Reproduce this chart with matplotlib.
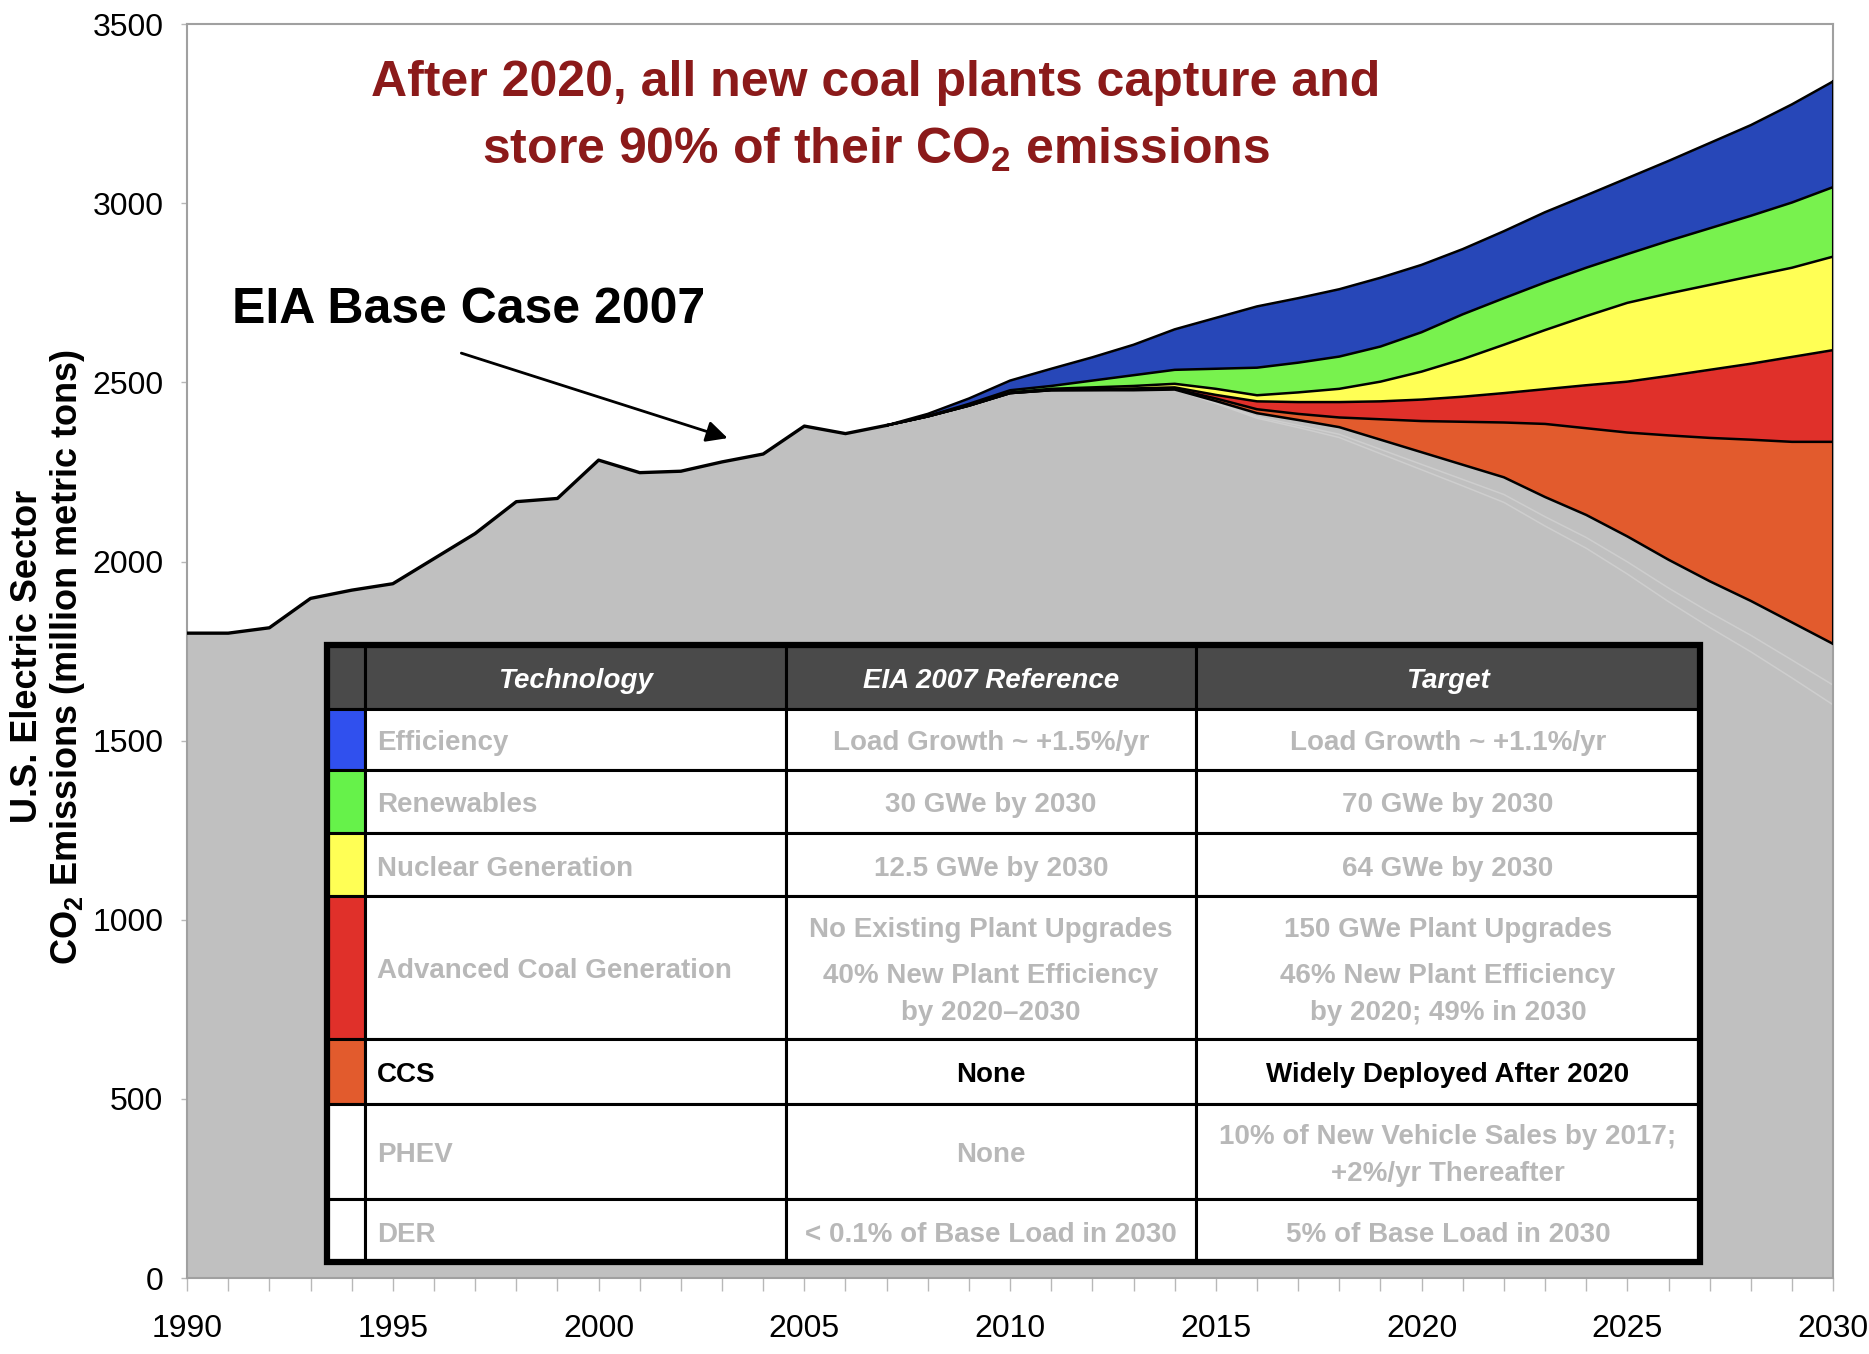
import numpy as np
import matplotlib
matplotlib.use("Agg")
import matplotlib.pyplot as plt
from matplotlib.patches import Rectangle

plt.rcParams['font.family'] = ['Liberation Sans', 'DejaVu Sans']
plt.rcParams['mathtext.fontset'] = 'custom'
plt.rcParams['mathtext.rm'] = 'Liberation Sans'
plt.rcParams['mathtext.bf'] = 'Liberation Sans:bold'
plt.rcParams['mathtext.default'] = 'bf'

# --- DATA (million metric tons CO2) ---
hist_years = list(range(1990, 2008))
hist_co2 = [1800, 1800, 1815, 1897, 1920, 1938, 2008, 2078, 2167, 2176,
            2283, 2248, 2252, 2278, 2300, 2378, 2357, 2380]

proj_years = list(range(2007, 2031))
# emissions left after all the coloured wedges (top of the grey area)
remaining = [2380, 2405, 2435, 2470, 2478, 2478, 2478, 2480, 2448, 2414, 2395, 2375,
             2340, 2305, 2270, 2235, 2180, 2130, 2070, 2005, 1945, 1890, 1830, 1770]
# reductions per technology, bottom to top
ccs = [0, 0, 0, 0, 0, 1, 2, 2, 7, 11, 17, 27,
       57, 87, 120, 153, 204, 242, 290, 347, 400, 450, 504, 564]
adv_coal = [0, 0, 0, 0, 1, 2, 3, 4, 10, 22, 33, 43,
            50, 60, 70, 82, 97, 120, 142, 166, 190, 212, 237, 256]
nuclear = [0, 0, 1, 2, 3, 5, 7, 10, 17, 17, 27, 37,
           55, 78, 105, 135, 165, 193, 220, 230, 237, 244, 249, 261]
renewables = [0, 1, 4, 6, 8, 19, 30, 39, 56, 77, 83, 90,
              98, 110, 125, 130, 133, 135, 136, 147, 158, 169, 182, 194]
efficiency = [0, 6, 15, 27, 48, 65, 85, 113, 142, 171, 180, 188,
              192, 188, 182, 187, 196, 202, 212, 223, 238, 253, 274, 295]
# PHEV / DER wedges are drawn in the grey itself, only faint edges show
phev = [0, 0, 0, 0, 0, 0, 0, 0, 5, 10, 15, 20,
        27, 34, 41, 48, 55, 63, 71, 79, 87, 96, 105, 115]
der = [0, 0, 0, 0, 0, 0, 0, 0, 2, 4, 6, 9,
       12, 15, 18, 22, 26, 30, 34, 38, 42, 46, 50, 55]

wedges = [ccs, adv_coal, nuclear, renewables, efficiency]
wedge_colors = ['#e25b2d', '#e0302a', '#ffff55', '#78f24e', '#2747b8']

# --- TABLE CONTENT ---
table_header = ['', 'Technology', 'EIA 2007 Reference', 'Target']
tech_names = ['Efficiency', 'Renewables', 'Nuclear Generation', 'Advanced Coal Generation',
              'CCS', 'PHEV', 'DER']
eia_ref = [['Load Growth ~ +1.5%/yr'], ['30 GWe by 2030'], ['12.5 GWe by 2030'],
           ['No Existing Plant Upgrades', '40% New Plant Efficiency\nby 2020\u20132030'],
           ['None'], ['None'], ['< 0.1% of Base Load in 2030']]
targets = [['Load Growth ~ +1.1%/yr'], ['70 GWe by 2030'], ['64 GWe by 2030'],
           ['150 GWe Plant Upgrades', '46% New Plant Efficiency\nby 2020; 49% in 2030'],
           ['Widely Deployed After 2020'],
           ['10% of New Vehicle Sales by 2017;\n+2%/yr Thereafter'],
           ['5% of Base Load in 2030']]
swatches = ['#3050ee', '#66f24a', '#ffff55', '#e0302a', '#e25b2d', 'white', 'white']
highlight_row = 4  # CCS row in black text

GRAY = '#c0c0c0'

fig = plt.figure(figsize=(18.69, 13.54), dpi=100)
ax = fig.add_axes([0.1001, 0.0561, 0.8807, 0.9261])

# grey base area (history + remaining emissions)
base_years = hist_years[:-1] + proj_years
base_vals = hist_co2[:-1] + remaining
ax.fill_between(base_years, 0, base_vals, color=GRAY, lw=0, zorder=1)

# stacked reduction wedges
px = np.array(proj_years)
lower = np.array(remaining, dtype=float)
bounds = [lower.copy()]
for vals, col in zip(wedges, wedge_colors):
    upper = lower + np.array(vals)
    ax.fill_between(px, lower, upper, color=col, lw=0, zorder=2)
    lower = upper
    bounds.append(upper.copy())

# faint PHEV / DER edges inside the grey
r = np.array(remaining)
m = px >= 2014
ax.plot(px[m], (r - np.array(phev))[m], color='#cecece', lw=1.1, zorder=1.5)
ax.plot(px[m], (r - np.array(phev) - np.array(der))[m], color='#cecece', lw=1.1, zorder=1.5)

# outlines
ax.plot(hist_years, hist_co2, color='black', lw=2.4, zorder=4)
for b in bounds:
    ax.plot(px, b, color='black', lw=1.8, zorder=4)
ax.plot([px[-1], px[-1]], [bounds[0][-1], bounds[-1][-1]], color='black', lw=1.5, zorder=4)

ax.set_xlim(1990, 2030)
ax.set_ylim(0, 3500)
ax.set_xticks(range(1990, 2031, 5))
ax.set_xticks(range(1990, 2031), minor=True)
ax.set_yticks(range(0, 3501, 500))
ax.tick_params(axis='x', which='both', direction='out', length=9, width=1,
               color='#b8b8b8', labelsize=23, pad=17)
ax.tick_params(axis='y', direction='out', length=4, width=1, color='#b8b8b8',
               labelsize=23, pad=13)
for s in ax.spines.values():
    s.set_color('#a0a0a0')
    s.set_linewidth(1.5)

# axis title (two lines)
fig.text(0.0145, 0.515, 'U.S. Electric Sector', rotation=90, ha='center', va='center',
         fontsize=26, fontweight='bold')
fig.text(0.036, 0.515, 'CO$_2$ Emissions (million metric tons)', rotation=90,
         ha='center', va='center', fontsize=26, fontweight='bold')

# headline
ax.text(0.4186, 0.953, 'After 2020, all new coal plants capture and', transform=ax.transAxes,
        ha='center', va='center', fontsize=36, fontweight='bold', color='#8b1a1a')
ax.text(0.4186, 0.900, 'store 90% of their CO$_2$ emissions', transform=ax.transAxes,
        ha='center', va='center', fontsize=36, fontweight='bold', color='#8b1a1a')

ax.text(1991.1, 2702, 'EIA Base Case 2007', ha='left', va='center', fontsize=36,
        fontweight='bold', color='black', zorder=5)
ax.annotate('', xy=(2003.2, 2342), xytext=(1996.6, 2584),
            arrowprops=dict(arrowstyle='-|>', color='black', lw=2, mutation_scale=32),
            zorder=5)

# --- TABLE ---
col_w = [38, 421, 410, 504]
row_h = [64, 61, 63, 63, 143, 65, 95, 63]
tab = fig.add_axes([327 / 1869, 1 - 1262 / 1354, sum(col_w) / 1869, sum(row_h) / 1354])
tab.set_xlim(0, sum(col_w))
tab.set_ylim(sum(row_h), 0)
tab.axis('off')

col_x = np.concatenate([[0], np.cumsum(col_w)])
row_y = np.concatenate([[0], np.cumsum(row_h)])
PITCH = 37
PARA_GAP = 9
FS = 20
NUDGE = 4  # text sits a little low in its cell


def put_cell(paragraphs, cx, y0, h, color, ha='center'):
    lines = []
    for k, p in enumerate(paragraphs):
        for ln in p.split('\n'):
            lines.append((ln, k))
    total = len(lines) * PITCH + (len(paragraphs) - 1) * PARA_GAP
    yy = y0 + (h - total) / 2 + NUDGE
    for i, (ln, k) in enumerate(lines):
        yc = yy + i * PITCH + k * PARA_GAP + PITCH / 2
        tab.text(cx, yc, ln, ha=ha, va='center', fontsize=FS, fontweight='bold', color=color)


for j in range(4):
    tab.add_patch(Rectangle((col_x[j], 0), col_w[j], row_h[0], facecolor='#4a4a4a',
                            edgecolor='black', lw=2.2))
    if table_header[j]:
        tab.text((col_x[j] + col_x[j + 1]) / 2, row_h[0] / 2 + NUDGE, table_header[j],
                 ha='center', va='center', fontsize=FS, fontweight='bold', style='italic',
                 color='white')

for i in range(len(tech_names)):
    y0 = row_y[i + 1]
    h = row_h[i + 1]
    txt_col = 'black' if i == highlight_row else '#b8b8b8'
    tab.add_patch(Rectangle((col_x[0], y0), col_w[0], h, facecolor=swatches[i],
                            edgecolor='black', lw=2.2))
    for j in range(1, 4):
        tab.add_patch(Rectangle((col_x[j], y0), col_w[j], h, facecolor='white',
                                edgecolor='black', lw=2.2))
    put_cell([tech_names[i]], col_x[1] + 12, y0, h, txt_col, ha='left')
    put_cell(eia_ref[i], (col_x[2] + col_x[3]) / 2, y0, h, txt_col)
    put_cell(targets[i], (col_x[3] + col_x[4]) / 2, y0, h, txt_col)

tab.add_patch(Rectangle((0, 0), sum(col_w), sum(row_h), facecolor='none',
                        edgecolor='black', lw=4.5, clip_on=False))

fig.savefig('out.png', dpi=100)
